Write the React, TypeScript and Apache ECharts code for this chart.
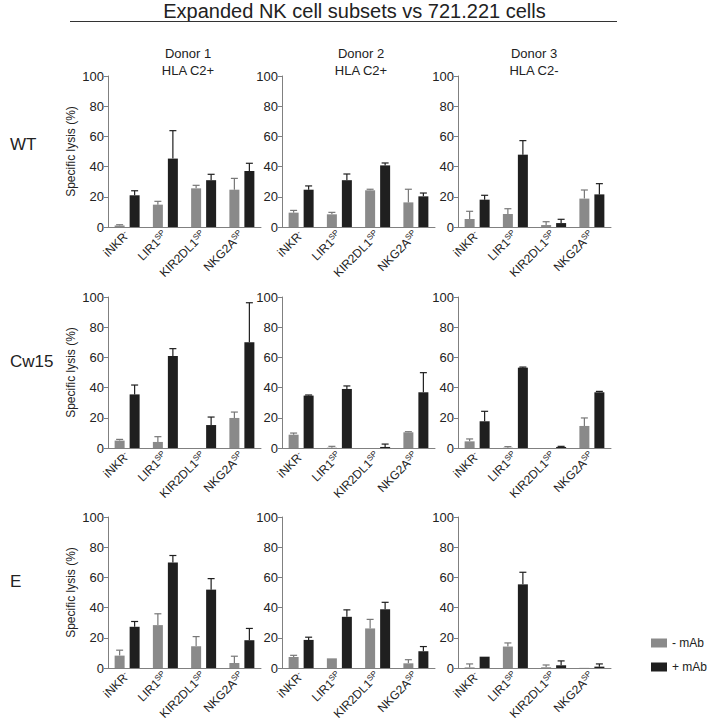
import React, { useEffect, useRef } from "react";
import * as echarts from "echarts";

const categories = ["iNKR", "LIR1", "KIR2DL1", "NKG2A"];
const superscripts = ["-", "SP", "SP", "SP"];
const rowLabels = ["WT", "Cw15", "E"];
const donorLabels = ["Donor 1", "Donor 2", "Donor 3"];
const hlaLabels = ["HLA C2+", "HLA C2+", "HLA C2-"];
const yTicks = [0, 20, 40, 60, 80, 100];

// row-major: WT D1, D2, D3, Cw15 D1..D3, E D1..D3
const minusMab = [
  [1, 14.8, 25.6, 24.7],
  [9.5, 8.4, 24.3, 16.3],
  [5.3, 8.6, 1.3, 18.8],
  [4.9, 4, 0, 19.9],
  [8.8, 0.2, 0, 10.4],
  [4.4, 0.2, 0, 14.6],
  [8.2, 28.4, 14.4, 3.3],
  [7.3, 6.4, 26.2, 3.1],
  [0.4, 14.2, 0.5, 0.1],
];
const minusSd = [
  [0.5, 2.2, 2.0, 7.5],
  [1.5, 1.3, 0.7, 8.7],
  [5.1, 3.5, 2.2, 5.7],
  [0.8, 3.5, 0, 3.9],
  [1.1, 0.9, 0, 0.4],
  [1.6, 0.7, 0, 5.3],
  [3.6, 7.5, 6.4, 4.5],
  [1.1, 0, 6, 2.4],
  [2.3, 2.4, 1.5, 0],
];
const plusMab = [
  [21, 45.3, 31, 37.1],
  [24.7, 31, 40.8, 20.3],
  [18.1, 47.9, 2.6, 21.6],
  [35.5, 60.9, 15.2, 70],
  [34.7, 39.1, 0.7, 36.9],
  [17.7, 53.2, 0.7, 36.9],
  [27.3, 69.8, 51.9, 18.4],
  [18.6, 33.9, 38.9, 11.1],
  [7.5, 55.4, 1.8, 0.9],
];
const plusSd = [
  [3, 18.5, 3.9, 5.1],
  [2.5, 4.1, 1.6, 2.2],
  [2.9, 9.3, 2.5, 7.1],
  [6.2, 4.9, 5.3, 26.2],
  [0.4, 2, 1.9, 13],
  [6.6, 0.4, 0.4, 0.6],
  [3.5, 4.7, 7.3, 7.8],
  [1.8, 4.6, 4.6, 3.1],
  [0, 8, 2.9, 1.8],
];

const FONT = "'Liberation Sans', Arial, Helvetica, sans-serif";
const GRAY = "#8a8a8a";
const DARK = "#1f1f1f";
const AXIS = "#808080";

const colLefts = [108, 282, 458];
const rowTops = [76, 297, 517];
const gridW = 153;
const gridH = 151;
const BAR_OFF = 7.5;

function errorSeries(idx: number, means: number[], sds: number[], offset: number, color: string) {
  return {
    type: "custom",
    xAxisIndex: idx,
    yAxisIndex: idx,
    silent: true,
    z: 1,
    data: means.map((m, i) => [i, m, m + sds[i]]),
    renderItem: (params: any, api: any) => {
      const i = api.value(0);
      const m = api.value(1);
      const t = api.value(2);
      if (!(t > m)) return null;
      const base = api.coord([i, m]);
      const top = api.coord([i, t]);
      const x = base[0] + offset;
      return {
        type: "group",
        children: [
          { type: "line", shape: { x1: x, y1: base[1], x2: x, y2: top[1] }, style: { stroke: color, lineWidth: 1.2 } },
          { type: "line", shape: { x1: x - 3.5, y1: top[1], x2: x + 3.5, y2: top[1] }, style: { stroke: color, lineWidth: 1.2 } },
        ],
      };
    },
  };
}

export default function App() {
  const ref = useRef<HTMLDivElement>(null);
  useEffect(() => {
    if (!ref.current) return;
    const chart = echarts.init(ref.current, undefined, { renderer: "svg" });
    const grids: any[] = [];
    const xAxes: any[] = [];
    const yAxes: any[] = [];
    const series: any[] = [];
    for (let r = 0; r < 3; r++) {
      for (let c = 0; c < 3; c++) {
        const idx = r * 3 + c;
        grids.push({ left: colLefts[c], top: rowTops[r], width: gridW, height: gridH, containLabel: false });
        xAxes.push({
          type: "category",
          gridIndex: idx,
          data: categories,
          axisLine: { lineStyle: { color: AXIS, width: 1 } },
          axisTick: { alignWithLabel: true, length: 4, lineStyle: { color: AXIS } },
          axisLabel: {
            rotate: 45,
            margin: 6,
            interval: 0,
            color: "#222",
            fontFamily: FONT,
            formatter: (v: string) => {
              const i = categories.indexOf(v);
              return `{m|${v}}{s|${superscripts[i]}}`;
            },
            rich: {
              m: { fontSize: 12, fontFamily: FONT, color: "#222", lineHeight: 13 },
              s: { fontSize: 8, fontFamily: FONT, color: "#222", lineHeight: 8, verticalAlign: "top" },
            },
          },
        });
        yAxes.push({
          type: "value",
          gridIndex: idx,
          min: yTicks[0],
          max: yTicks[yTicks.length - 1],
          interval: 20,
          splitLine: { show: false },
          axisLine: { show: true, lineStyle: { color: AXIS, width: 1 } },
          axisTick: { show: true, length: 4, lineStyle: { color: AXIS } },
          axisLabel: { fontSize: 13, color: "#222", fontFamily: FONT, margin: 4 },
          name: c === 0 ? "Specific lysis (%)" : "",
          nameLocation: "middle",
          nameGap: 31,
          nameTextStyle: { fontSize: 12, color: "#222", fontFamily: FONT },
        });
        series.push({
          name: "- mAb",
          type: "bar",
          xAxisIndex: idx,
          yAxisIndex: idx,
          data: minusMab[idx],
          barWidth: 10,
          barGap: "50%",
          itemStyle: { color: GRAY },
          z: 2,
        });
        series.push({
          name: "+ mAb",
          type: "bar",
          xAxisIndex: idx,
          yAxisIndex: idx,
          data: plusMab[idx],
          barWidth: 10,
          barGap: "50%",
          itemStyle: { color: DARK },
          z: 2,
        });
        series.push(errorSeries(idx, minusMab[idx], minusSd[idx], -BAR_OFF, "#777"));
        series.push(errorSeries(idx, plusMab[idx], plusSd[idx], BAR_OFF, DARK));
      }
    }

    const graphics: any[] = [
      {
        type: "text",
        left: "center",
        top: 1,
        style: { text: "Expanded NK cell subsets vs 721.221 cells", fontSize: 20, fontFamily: FONT, fill: "#222" },
      },
      { type: "line", shape: { x1: 70, y1: 21.5, x2: 617, y2: 21.5 }, style: { stroke: "#333", lineWidth: 1.2 } },
    ];
    const donorX = [188, 361, 534];
    donorLabels.forEach((d, i) => {
      graphics.push({
        type: "text",
        x: donorX[i],
        y: 47,
        style: { text: d, fontSize: 13, fontFamily: FONT, fill: "#222", align: "center" },
      });
      graphics.push({
        type: "text",
        x: donorX[i],
        y: 64,
        style: { text: hlaLabels[i], fontSize: 13, fontFamily: FONT, fill: "#222", align: "center" },
      });
    });
    const rowY = [136, 353, 573];
    rowLabels.forEach((l, i) => {
      graphics.push({
        type: "text",
        x: 10,
        y: rowY[i],
        style: { text: l, fontSize: 17, fontFamily: FONT, fill: "#222" },
      });
    });

    chart.setOption({
      animation: false,
      backgroundColor: "#fff",
      grid: grids,
      xAxis: xAxes,
      yAxis: yAxes,
      series,
      legend: {
        data: ["- mAb", "+ mAb"],
        orient: "vertical",
        left: 646,
        top: 632,
        itemWidth: 16,
        itemHeight: 9,
        itemGap: 12,
        icon: "rect",
        textStyle: { fontSize: 12, fontFamily: FONT, color: "#222" },
        selectedMode: false,
      },
      graphic: graphics,
    });
    return () => chart.dispose();
  }, []);
  return <div ref={ref} style={{ position: "fixed", left: 0, top: 0, width: 709, height: 727 }} />;
}
